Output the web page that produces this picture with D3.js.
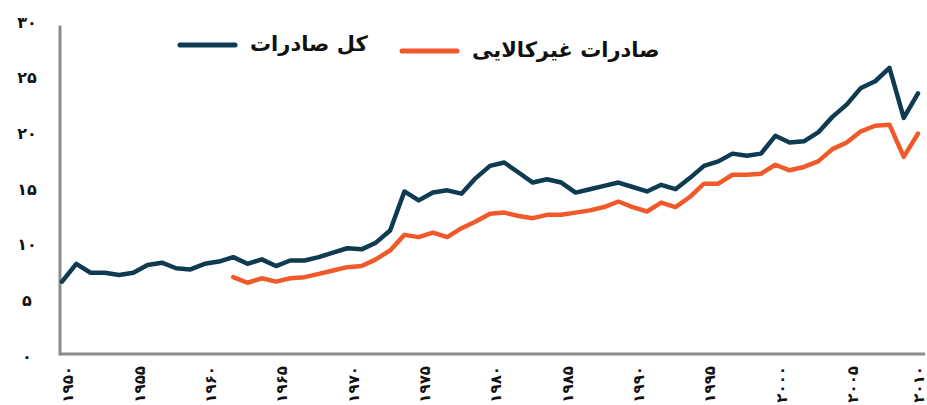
<!DOCTYPE html>
<html>
<head>
<meta charset="utf-8">
<script src="https://cdn.jsdelivr.net/npm/d3@7"></script>
<style>
  html, body { margin: 0; padding: 0; background: #fff; }
  svg { display: block; }
  .tick-label { font-family: "DejaVu Sans", sans-serif; font-weight: bold; font-size: 16px; fill: #111; }
  .x-label { font-size: 15px; }
  .legend-label { font-family: "DejaVu Sans", sans-serif; font-weight: bold; font-size: 21px; fill: #111; }
</style>
</head>
<body>
<div id="viz"></div>
<script>
const years = [
    1950, 1951, 1952, 1953, 1954, 1955, 1956, 1957, 1958, 1959,
    1960, 1961, 1962, 1963, 1964, 1965, 1966, 1967, 1968, 1969,
    1970, 1971, 1972, 1973, 1974, 1975, 1976, 1977, 1978, 1979,
    1980, 1981, 1982, 1983, 1984, 1985, 1986, 1987, 1988, 1989,
    1990, 1991, 1992, 1993, 1994, 1995, 1996, 1997, 1998, 1999,
    2000, 2001, 2002, 2003, 2004, 2005, 2006, 2007, 2008, 2009, 2010
];

// کل صادرات, 1950-2010
const totalExports = [
    6.5, 8.1, 7.3, 7.3, 7.1, 7.3, 8.0, 8.2, 7.7, 7.6,
    8.1, 8.3, 8.7, 8.1, 8.5, 7.9, 8.4, 8.4, 8.7, 9.1,
    9.5, 9.4, 10.0, 11.1, 14.6, 13.8, 14.5, 14.7, 14.4, 15.8,
    16.9, 17.2, 16.3, 15.4, 15.7, 15.4, 14.5, 14.8, 15.1, 15.4,
    15.0, 14.6, 15.2, 14.8, 15.8, 16.9, 17.3, 18.0, 17.8, 18.0,
    19.6, 19.0, 19.1, 19.9, 21.3, 22.4, 23.9, 24.5, 25.7, 21.2, 23.4
];

// صادرات غیرکالایی, 1962-2010
const nonGoodsStart = 1962;
const nonGoodsExports = [
    6.9, 6.4, 6.8, 6.5, 6.8, 6.9, 7.2, 7.5,
    7.8, 7.9, 8.5, 9.3, 10.7, 10.5, 10.9, 10.5, 11.3, 11.9,
    12.6, 12.7, 12.4, 12.2, 12.5, 12.5, 12.7, 12.9, 13.2, 13.7,
    13.2, 12.8, 13.6, 13.2, 14.1, 15.3, 15.3, 16.1, 16.1, 16.2,
    17.0, 16.5, 16.8, 17.3, 18.4, 19.0, 20.0, 20.5, 20.6, 17.7, 19.8
];

const yTicks = [0, 5, 10, 15, 20, 25, 30];
const yTickLabels = ["۰", "۵", "۱۰", "۱۵", "۲۰", "۲۵", "۳۰"];
const xTicks = [1950, 1955, 1960, 1965, 1970, 1975, 1980, 1985, 1990, 1995, 2000, 2005, 2010];
const xTickLabels = ["۱۹۵۰", "۱۹۵۵", "۱۹۶۰", "۱۹۶۵", "۱۹۷۰", "۱۹۷۵", "۱۹۸۰", "۱۹۸۵", "۱۹۹۰", "۱۹۹۵", "۲۰۰۰", "۲۰۰۵", "۲۰۱۰"];

const legendLabels = ["کل صادرات", "صادرات غیرکالایی"];
const colors = ["#0e3a52", "#f0592a"];

const width = 927;
const height = 405;

const x = d3.scaleLinear().domain([1950, 2010]).range([62, 918]);
const y = d3.scaleLinear().domain([0, 30]).range([354, 20]);

const svg = d3.select("#viz").append("svg")
    .attr("width", width)
    .attr("height", height);

// axes (plain grey lines, no ticks)
svg.append("line")
    .attr("x1", x(1950) - 2).attr("x2", x(2010) + 7)
    .attr("y1", y(0)).attr("y2", y(0))
    .attr("stroke", "#8a8a8a").attr("stroke-width", 3);

svg.append("line")
    .attr("x1", x(1950) - 2).attr("x2", x(1950) - 2)
    .attr("y1", y(0) + 1.5).attr("y2", y(29.5))
    .attr("stroke", "#8a8a8a").attr("stroke-width", 3);

svg.selectAll(".y-label")
    .data(yTicks)
    .join("text")
        .attr("class", "tick-label y-label")
        .attr("x", 27)
        .attr("y", d => y(d) + 2)
        .attr("dy", "0.35em")
        .style("text-anchor", "middle")
        .text((d, i) => yTickLabels[i]);

svg.selectAll(".x-label")
    .data(xTicks)
    .join("text")
        .attr("class", "tick-label x-label")
        .attr("transform", d => `translate(${Math.min(x(d) + 6, width - 8)},366) rotate(-90)`)
        .attr("dy", "0.35em")
        .style("text-anchor", "end")
        .text((d, i) => xTickLabels[i]);

const line = d3.line()
    .x(d => x(d[0]))
    .y(d => y(d[1]));

const series = [
    years.map((yr, i) => [yr, totalExports[i]]),
    nonGoodsExports.map((v, i) => [nonGoodsStart + i, v])
];

svg.selectAll(".series")
    .data(series)
    .join("path")
        .attr("class", "series")
        .attr("fill", "none")
        .attr("stroke", (d, i) => colors[i])
        .attr("stroke-width", 4.5)
        .attr("stroke-linejoin", "round")
        .attr("stroke-linecap", "round")
        .attr("d", line);

// legend
const legendPos = [{x: 180, y: 45}, {x: 402, y: 51}];

const gLegend = svg.selectAll(".legend")
    .data(legendLabels)
    .join("g")
        .attr("class", "legend")
        .attr("transform", (d, i) => `translate(${legendPos[i].x},${legendPos[i].y})`);

gLegend.append("line")
    .attr("x1", 0).attr("x2", 55)
    .attr("stroke", (d, i) => colors[i])
    .attr("stroke-width", 5)
    .attr("stroke-linecap", "round");

gLegend.append("text")
    .attr("class", "legend-label")
    .attr("x", 70)
    .attr("dy", "0.3em")
    .attr("direction", "rtl")
    .style("text-anchor", "end")
    .text(d => d);
</script>
</body>
</html>
